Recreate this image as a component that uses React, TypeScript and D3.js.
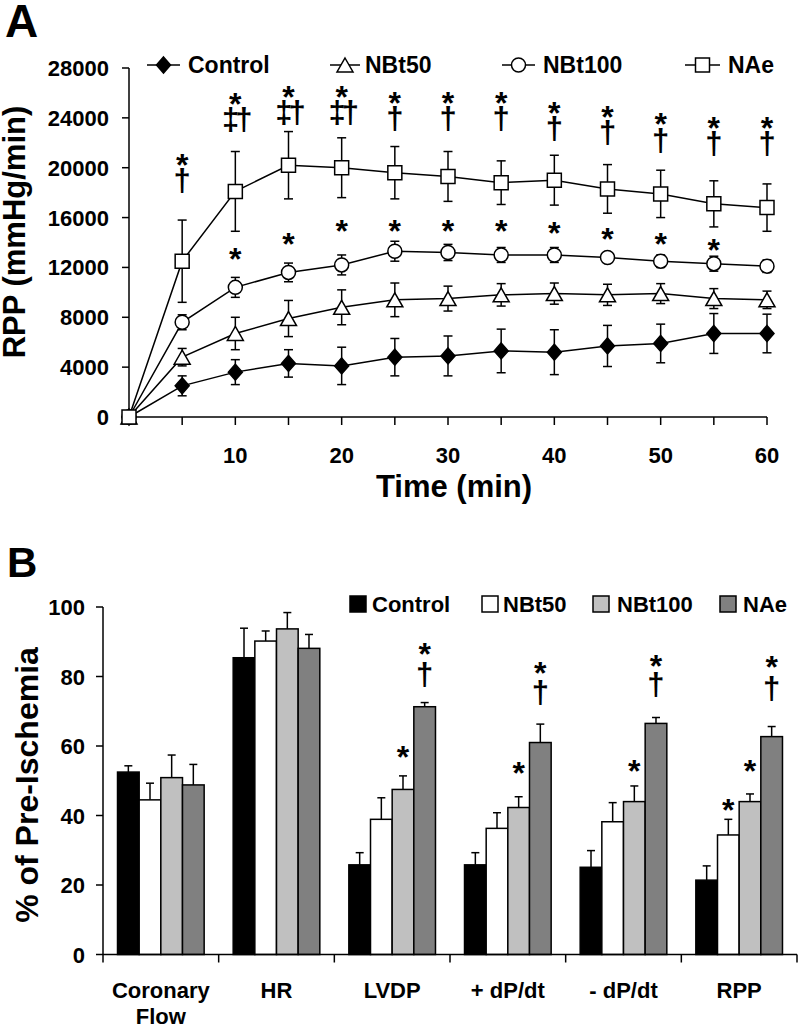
import React from 'react';
import * as d3 from 'd3';

// ---------- Panel A: RPP over time ----------
const times = [0, 5, 10, 15, 20, 25, 30, 35, 40, 45, 50, 55, 60];
const controlMean = [0, 2500, 3600, 4300, 4100, 4800, 4900, 5300, 5200, 5700, 5900, 6700, 6700];
const controlSD = [0, 800, 1000, 1100, 1500, 1500, 1600, 1750, 1800, 1650, 1550, 1600, 1550];
const nbt50Mean = [0, 4800, 6700, 7900, 8800, 9400, 9500, 9800, 9900, 9800, 9900, 9500, 9400];
const nbt50SD = [0, 700, 1300, 1450, 1400, 1350, 1000, 900, 850, 850, 800, 800, 700];
const nbt100Mean = [0, 7600, 10400, 11600, 12200, 13300, 13200, 13000, 13000, 12800, 12500, 12300, 12100];
const nbt100SD = [0, 600, 800, 750, 800, 800, 650, 600, 600, 400, 500, 600, 500];
const naeMean = [0, 12500, 18100, 20200, 20000, 19600, 19300, 18800, 19000, 18300, 17900, 17100, 16800];
const naeSD = [0, 3300, 3200, 2700, 2400, 2100, 2000, 1750, 2000, 1950, 1900, 1850, 1900];

const yTicksA = [0, 4000, 8000, 12000, 16000, 20000, 24000, 28000];
const xTickMarksA = [5, 10, 15, 20, 25, 30, 35, 40, 45, 50, 55, 60];
const xTickLabelsA = [10, 20, 30, 40, 50, 60];

// significance marks over NAe (dagger row, with * above) and over NBt100 (*)
const naeMarkTimes = [5, 10, 15, 20, 25, 30, 35, 40, 45, 50, 55, 60];
const naeMarkText = ['†', '‡†', '‡†', '‡†', '†', '†', '†', '†', '†', '†', '†', '†'];
const naeMarkLevel = [18850, 23750, 24300, 24300, 23800, 23800, 23800, 23000, 22700, 22100, 21800, 21800];
const nbt100StarTimes = [10, 15, 20, 25, 30, 35, 40, 45, 50, 55];
const nbt100StarLevel = [13260, 14470, 15560, 15560, 15560, 15560, 15400, 14870, 14470, 13980];

// ---------- Panel B: % of pre-ischemia ----------
const categories = ['Coronary Flow', 'HR', 'LVDP', '+ dP/dt', '- dP/dt', 'RPP'];
const groups = ['Control', 'NBt50', 'NBt100', 'NAe'];
const controlB = [52.5, 85.4, 25.8, 25.8, 25.1, 21.4];
const controlBErr = [1.8, 8.5, 3.5, 3.5, 4.8, 4.1];
const nbt50B = [44.5, 90.2, 38.9, 36.3, 38.2, 34.4];
const nbt50BErr = [4.8, 2.9, 6.2, 4.5, 5.5, 4.5];
const nbt100B = [50.9, 93.7, 47.5, 42.3, 44.0, 44.0];
const nbt100BErr = [6.5, 4.7, 3.9, 3.1, 4.5, 2.2];
const naeB = [48.8, 88.1, 71.3, 61.0, 66.5, 62.7];
const naeBErr = [5.9, 4.0, 1.2, 5.3, 1.7, 2.9];
const yTicksB = [0, 20, 40, 60, 80, 100];

const markCatB = ['LVDP', 'LVDP', '+ dP/dt', '+ dP/dt', '- dP/dt', '- dP/dt', 'RPP', 'RPP', 'RPP'];
const markGroupB = ['NBt100', 'NAe', 'NBt100', 'NAe', 'NBt100', 'NAe', 'NBt50', 'NBt100', 'NAe'];
const markStarB = [58.9, 88.6, 54.5, 83.3, 55.1, 85.3, 43.7, 55.1, 85.0];
const markDaggerB: (number | null)[] = [null, 80.0, null, 75.0, null, 77.3, null, null, 76.0];

const FONT = '"Liberation Sans", Arial, Helvetica, sans-serif';
const W = 801;
const H = 1029;

function markerPath(shape: string, r: number): string {
  const p = d3.path();
  if (shape === 'diamond') {
    p.moveTo(0, -r - 1); p.lineTo(r, 0); p.lineTo(0, r + 1); p.lineTo(-r, 0); p.closePath();
  } else if (shape === 'triangle') {
    p.moveTo(0, -r); p.lineTo(r + 1, r); p.lineTo(-r - 1, r); p.closePath();
  } else if (shape === 'circle') {
    p.arc(0, 0, r, 0, Math.PI * 2);
  } else {
    p.rect(-r, -r, 2 * r, 2 * r);
  }
  return p.toString();
}

const seriesA = [
  { name: 'Control', mean: controlMean, sd: controlSD, shape: 'diamond', fill: '#000' },
  { name: 'NBt50', mean: nbt50Mean, sd: nbt50SD, shape: 'triangle', fill: '#fff' },
  { name: 'NBt100', mean: nbt100Mean, sd: nbt100SD, shape: 'circle', fill: '#fff' },
  { name: 'NAe', mean: naeMean, sd: naeSD, shape: 'square', fill: '#fff' },
];
const legendA = [
  { x0: 147, x1: 180, tx: 188 },
  { x0: 330, x1: 360, tx: 365 },
  { x0: 502, x1: 535, tx: 543 },
  { x0: 685, x1: 720, tx: 728 },
];

const barValues = [controlB, nbt50B, nbt100B, naeB];
const barErrs = [controlBErr, nbt50BErr, nbt100BErr, naeBErr];
const barFills = ['#000000', '#ffffff', '#c0c0c0', '#808080'];
const legendB = [
  { sx: 350, tx: 372 },
  { sx: 482, tx: 503 },
  { sx: 593, tx: 617 },
  { sx: 720, tx: 743 },
];

const STAR_FS = 32;
const DAG_FS = 31;

function Star({ x, cy }: { x: number; cy: number }) {
  return (
    <text x={x} y={cy + STAR_FS * 0.58} textAnchor="middle" fontSize={STAR_FS} fontWeight="bold">*</text>
  );
}
function Dagger({ x, cy, t }: { x: number; cy: number; t: string }) {
  return (
    <text x={x} y={cy + DAG_FS * 0.29} textAnchor="middle" fontSize={DAG_FS} fontWeight="bold" letterSpacing={t.length > 1 ? -4 : 0}>{t}</text>
  );
}

function PanelA() {
  const x = d3.scaleLinear().domain([0, 60]).range([129, 767]);
  const y = d3.scaleLinear().domain([0, 28000]).range([417, 68]);
  const line = d3.line<number>().x((_, i) => x(times[i])).y((d) => y(d));
  const cap = 4.5;
  return (
    <g>
      <text x={5} y={37} fontSize={46} fontWeight="bold">A</text>
      {/* axes */}
      <line x1={x(0)} x2={x(0)} y1={y(0)} y2={y(28000)} stroke="#000" strokeWidth={1.5} />
      <line x1={x(0)} x2={x(60)} y1={y(0)} y2={y(0)} stroke="#000" strokeWidth={1.5} />
      {yTicksA.map((t) => (
        <g key={t}>
          <line x1={x(0) - 7} x2={x(0)} y1={y(t)} y2={y(t)} stroke="#000" strokeWidth={1.5} />
          <text x={x(0) - 20} y={y(t) + 8} textAnchor="end" fontSize={22} fontWeight="bold">{t}</text>
        </g>
      ))}
      {xTickMarksA.map((t) => (
        <line key={t} x1={x(t)} x2={x(t)} y1={y(0)} y2={y(0) + 8} stroke="#000" strokeWidth={1.5} />
      ))}
      {xTickLabelsA.map((t) => (
        <text key={t} x={x(t)} y={463} textAnchor="middle" fontSize={22} fontWeight="bold">{t}</text>
      ))}
      <text x={454} y={497} textAnchor="middle" fontSize={31} fontWeight="bold">Time (min)</text>
      <text transform="translate(25,232) rotate(-90)" textAnchor="middle" fontSize={31} fontWeight="bold">RPP (mmHg/min)</text>

      {/* lines and error bars */}
      {seriesA.map((s) => (
        <g key={s.name}>
          <path d={line(s.mean) || ''} fill="none" stroke="#000" strokeWidth={1.5} />
          {s.mean.map((m, i) =>
            s.sd[i] > 0 ? (
              <g key={i} stroke="#000" strokeWidth={1.5}>
                <line x1={x(times[i])} x2={x(times[i])} y1={y(m - s.sd[i])} y2={y(m + s.sd[i])} />
                <line x1={x(times[i]) - cap} x2={x(times[i]) + cap} y1={y(m + s.sd[i])} y2={y(m + s.sd[i])} />
                <line x1={x(times[i]) - cap} x2={x(times[i]) + cap} y1={y(m - s.sd[i])} y2={y(m - s.sd[i])} />
              </g>
            ) : null
          )}
        </g>
      ))}
      {/* markers */}
      {seriesA.map((s) => (
        <g key={s.name}>
          {s.mean.map((m, i) => (
            <path
              key={i}
              d={markerPath(s.shape, 7)}
              transform={`translate(${x(times[i])},${y(m)})`}
              fill={s.fill}
              stroke="#000"
              strokeWidth={1.5}
            />
          ))}
        </g>
      ))}
      {/* significance marks */}
      {naeMarkTimes.map((t, i) => (
        <g key={t}>
          <Star x={x(t)} cy={y(naeMarkLevel[i]) - 25} />
          <Dagger x={x(t)} cy={y(naeMarkLevel[i])} t={naeMarkText[i]} />
        </g>
      ))}
      {nbt100StarTimes.map((t, i) => (
        <Star key={t} x={x(t)} cy={y(nbt100StarLevel[i])} />
      ))}
      {/* legend */}
      {seriesA.map((s, i) => {
        const L = legendA[i];
        const cx = (L.x0 + L.x1) / 2;
        return (
          <g key={s.name}>
            <line x1={L.x0} x2={L.x1} y1={65} y2={65} stroke="#000" strokeWidth={1.5} />
            <path d={markerPath(s.shape, 7)} transform={`translate(${cx},65)`} fill={s.fill} stroke="#000" strokeWidth={1.5} />
            <text x={L.tx} y={73} fontSize={23} fontWeight="bold">{s.name}</text>
          </g>
        );
      })}
    </g>
  );
}

function PanelB() {
  const x0 = d3.scaleBand<string>().domain(categories).range([103, 797]).paddingInner(0).paddingOuter(0);
  const x1 = d3.scaleBand<string>().domain(groups).range([0, x0.bandwidth()]).paddingInner(0).paddingOuter(0.67);
  const y = d3.scaleLinear().domain([0, 100]).range([954.5, 607]);
  const bw = x1.bandwidth();
  const cap = 4;
  const boundaries = categories.map((c) => x0(c) as number).concat([797]);
  return (
    <g>
      <text x={7} y={577} fontSize={42} fontWeight="bold">B</text>
      {/* bars */}
      {categories.map((c, ci) => (
        <g key={c}>
          {groups.map((g, gi) => {
            const bx = (x0(c) as number) + (x1(g) as number);
            const v = barValues[gi][ci];
            const e = barErrs[gi][ci];
            return (
              <g key={g}>
                <line x1={bx + bw / 2} x2={bx + bw / 2} y1={y(v)} y2={y(v + e)} stroke="#000" strokeWidth={1.5} />
                <line x1={bx + bw / 2 - cap} x2={bx + bw / 2 + cap} y1={y(v + e)} y2={y(v + e)} stroke="#000" strokeWidth={1.5} />
                <rect x={bx} y={y(v)} width={bw} height={y(0) - y(v)} fill={barFills[gi]} stroke="#000" strokeWidth={1.5} />
              </g>
            );
          })}
        </g>
      ))}
      {/* axes */}
      <line x1={103} x2={103} y1={y(0)} y2={y(100)} stroke="#000" strokeWidth={1.5} />
      <line x1={103} x2={797} y1={y(0)} y2={y(0)} stroke="#000" strokeWidth={1.5} />
      {yTicksB.map((t) => (
        <g key={t}>
          <line x1={96} x2={103} y1={y(t)} y2={y(t)} stroke="#000" strokeWidth={1.5} />
          <text x={85} y={y(t) + 8} textAnchor="end" fontSize={22} fontWeight="bold">{t}</text>
        </g>
      ))}
      {boundaries.map((b, i) => (
        <line key={i} x1={b} x2={b} y1={y(0)} y2={y(0) + 8} stroke="#000" strokeWidth={1.5} />
      ))}
      {categories.map((c) => {
        const cx = (x0(c) as number) + x0.bandwidth() / 2;
        const lines = c === 'Coronary Flow' ? ['Coronary', 'Flow'] : [c];
        return (
          <text key={c} x={cx} y={998} textAnchor="middle" fontSize={22} fontWeight="bold">
            {lines.map((l, li) => (
              <tspan key={li} x={cx} dy={li === 0 ? 0 : 26}>{l}</tspan>
            ))}
          </text>
        );
      })}
      <text transform="translate(38,785) rotate(-90)" textAnchor="middle" fontSize={32} fontWeight="bold">% of Pre-Ischemia</text>
      {/* significance marks */}
      {markCatB.map((c, i) => {
        const cx = (x0(c) as number) + (x1(markGroupB[i]) as number) + bw / 2;
        const d = markDaggerB[i];
        return (
          <g key={i}>
            <Star x={cx} cy={y(markStarB[i])} />
            {d !== null ? <Dagger x={cx} cy={y(d)} t="†" /> : null}
          </g>
        );
      })}
      {/* legend */}
      {groups.map((g, i) => (
        <g key={g}>
          <rect x={legendB[i].sx} y={596} width={16} height={16} fill={barFills[i]} stroke="#000" strokeWidth={1.5} />
          <text x={legendB[i].tx} y={612} fontSize={22} fontWeight="bold">{g}</text>
        </g>
      ))}
    </g>
  );
}

export default function App() {
  return (
    <svg
      width={W}
      height={H}
      viewBox={`0 0 ${W} ${H}`}
      style={{ position: 'absolute', left: 0, top: 0, background: '#fff' }}
      fontFamily={FONT}
    >
      <rect width={W} height={H} fill="#fff" />
      <PanelA />
      <PanelB />
    </svg>
  );
}
